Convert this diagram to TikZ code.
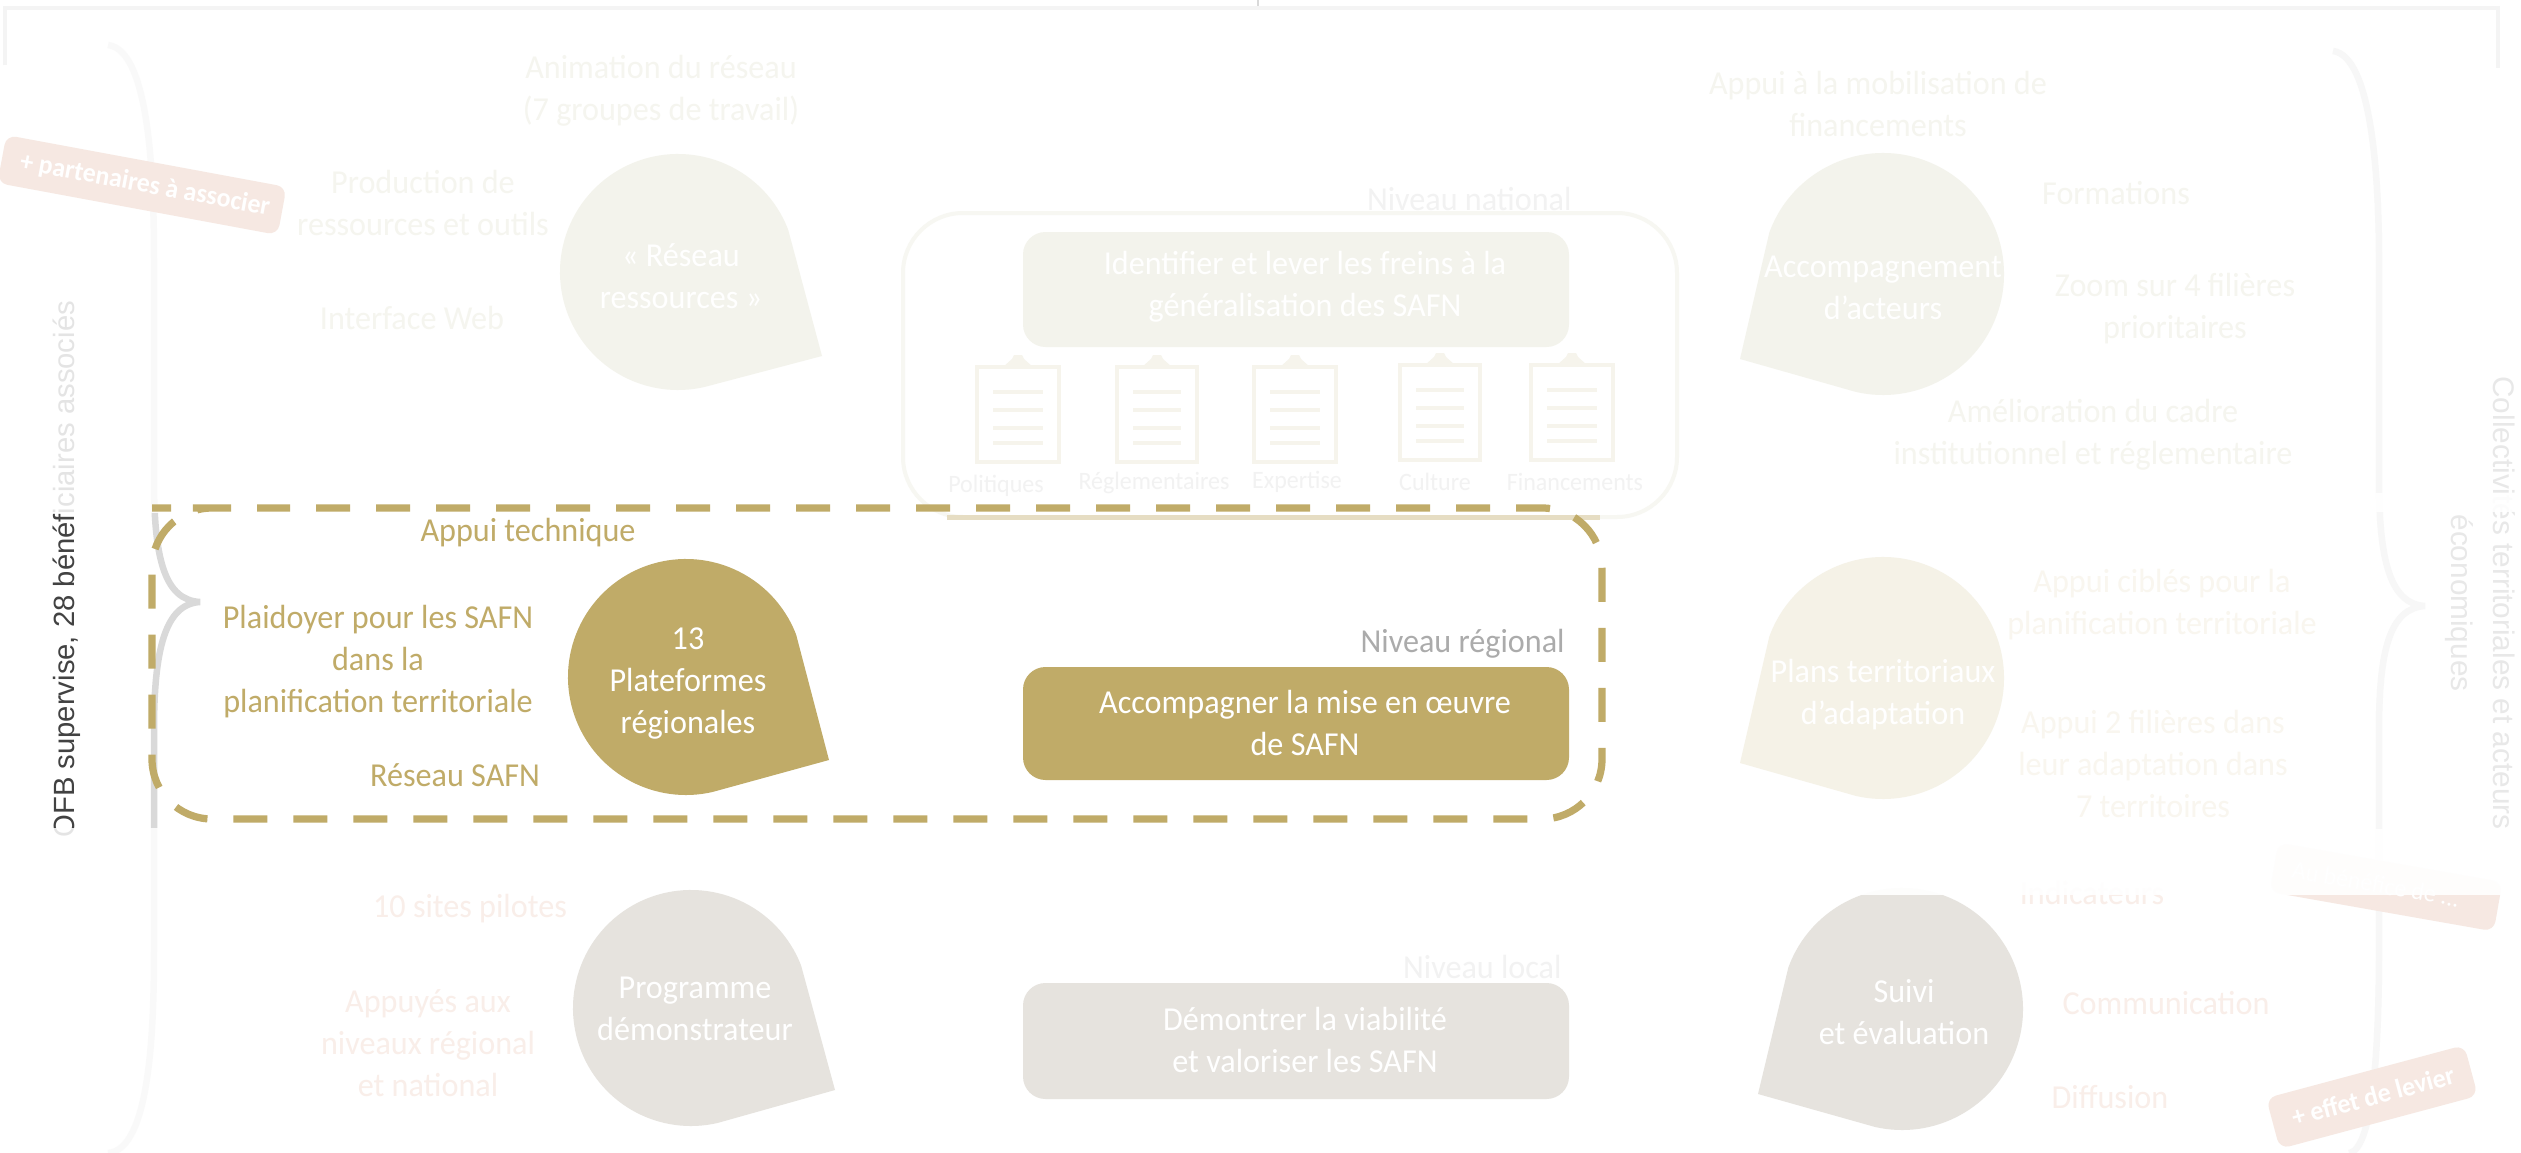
\documentclass[tikz,border=0pt]{standalone}
\usepackage{fontspec}
\setmainfont{Carlito}[FakeStretch=0.96]
\newfontfamily\arialf{Liberation Sans}
\definecolor{gold}{HTML}{C0AB68}
\definecolor{natfill}{HTML}{F3F3EC}
\definecolor{natlab}{HTML}{F5F5EF}
\definecolor{planfill}{HTML}{F5F2E7}
\definecolor{planlab}{HTML}{F9F6EF}
\definecolor{locfill}{HTML}{E6E3DE}
\definecolor{loclab}{HTML}{F9EEE9}
\definecolor{tagfill}{HTML}{F6E8E2}
\definecolor{framec}{HTML}{F4F4F4}
\definecolor{clipc}{HTML}{F6F4EC}
\tikzset{
  lab/.style={font=\fontsize{13.4}{16.8}\selectfont, align=center, inner sep=0pt},
  lev/.style={font=\fontsize{13.4}{16.8}\selectfont, inner sep=0pt, anchor=east},
  boxn/.style={rounded corners=9pt, draw=none, minimum width=218.4pt, inner sep=0pt},
  tagn/.style={rounded corners=4pt, inner sep=0pt},
  tagt/.style={text=white, inner sep=0pt, align=center, font=\fontsize{10.8}{13}\selectfont\bfseries},
  small/.style={font=\fontsize{10}{12}\selectfont, inner sep=0pt, text=#1},
  side/.style={font=\arialf\fontsize{#1}{16.8}\selectfont, align=center, inner sep=0pt},
}
% bubble: cx, cy, r(pt), start angle, end angle, tipx, tipy, colour
\newcommand{\bubbleshape}[8]{\fill[#8] ([shift={(#4:#3pt)}]#1,#2) arc[start angle=#4, end angle=#5, radius=#3pt] -- (#6,#7) -- cycle;}
% clipboard: left, top, right
\newcommand{\clipboardicon}[3]{%
  \draw[clipc, line width=1.6pt] (#1,#2) rectangle (#3,#2+95);
  \fill[clipc] ({(#1+#3)/2-15},#2) -- ({(#1+#3)/2-6},{#2-8}) -- ({(#1+#3)/2-4},{#2-12}) -- ({(#1+#3)/2+4},{#2-12}) -- ({(#1+#3)/2+6},{#2-8}) -- ({(#1+#3)/2+15},#2) -- cycle;
  \foreach \dy in {25,43,61,76}{\draw[clipc, line width=1.5pt] ({#1+16},{#2+\dy}) -- ({#3-16},{#2+\dy});}
}
\begin{document}
\begin{tikzpicture}[x=0.4pt,y=-0.4pt]
\useasboundingbox (0,0) rectangle (2521,1153);
\fill[white] (0,0) rectangle (2521,1153);
% left side bracket and text, faded outside the band
\draw[color=black!15, line width=2.6pt] (108,45) .. controls (150,50) and (154,180) .. (154,260) -- (154,480) .. controls (154,560) and (165,600) .. (200,602) .. controls (165,604) and (154,650) .. (154,730) -- (154,950) .. controls (154,1030) and (150,1150) .. (108,1153);
\node[side=11.7, rotate=90, text=black!74, anchor=west] (ofb) at (67,838) {OFB supervise, 28 bénéficiaires associés};
\fill[white, opacity=.86] (0,0) rectangle (300,513);
\fill[white, opacity=.86] (0,828) rectangle (300,1153);
% right side bracket and text
\draw[color=black!3, line width=2.6pt] (2333,51) .. controls (2372,56) and (2379,180) .. (2379,260) -- (2379,480) .. controls (2379,560) and (2390,604) .. (2425,606) .. controls (2390,608) and (2379,650) .. (2379,730) -- (2379,950) .. controls (2379,1030) and (2375,1150) .. (2349,1153);
\node[side=11.9, rotate=-90, text=black!9] (coll) at (2480,603) {Collectivités territoriales et acteurs\\économiques};
\fill[white, opacity=.88] (2340,493) rectangle (2521,512);
% frame
\draw[framec, line width=1.6pt] (5,65) -- (5,8) -- (2498,8) -- (2498,68);
\draw[black!15, line width=.8pt] (1258,0) -- (1258,6);
% national outline
\draw[color=natfill!70, line width=1.6pt, rounded corners=24pt] (903,213) rectangle (1677,517);
\draw[color=gold!40, line width=2pt] (947,517) -- (1600,517);
% bubbles
\bubbleshape{678}{272}{47.2}{21}{283}{822}{356}{natfill}
\bubbleshape{686}{677}{47.2}{21}{283}{829}{760}{gold}
\bubbleshape{691}{1008}{47.2}{21}{283}{835}{1090}{locfill}
\bubbleshape{1883}{274}{48.4}{160}{-103}{1740}{359}{natfill}
\bubbleshape{1883}{678}{48.4}{160}{-103}{1740}{763}{planfill}
\bubbleshape{1902}{1009}{48.4}{160}{-103}{1758}{1094}{locfill}
\node[lab, text=white] (reso) at (681,276) {« Réseau\\ressources »};
\node[lab, text=white] (plat) at (688,684) {13\\Plateformes\\régionales};
\node[lab, text=white] (prog) at (695,1009) {Programme\\démonstrateur};
\node[lab, text=white] (acc) at (1883,288) {Accompagnement\\d'acteurs};
\node[lab, text=white] (plans) at (1883,695) {Plans territoriaux\\d'adaptation};
\node[lab, text=white] (suivi) at (1904,1012) {Suivi\\et évaluation};
% central boxes
\node[boxn, fill=natfill, minimum height=46pt] (identifierbox) at (1296,289.5) {};
\node[boxn, fill=gold, minimum height=45.2pt] (misebox) at (1296,723.5) {};
\node[boxn, fill=locfill, minimum height=46.4pt] (demobox) at (1296,1041) {};
\node[lab, text=white] (identifier) at (1305,287) {Identifier et lever les freins à la\\généralisation des SAFN};
\node[lab, text=white] (mise) at (1305,722.5) {Accompagner la mise en œuvre\\de SAFN};
\node[lab, text=white] (demo) at (1305,1039.5) {Démontrer la viabilité\\et valoriser les SAFN};
\node[lev, text=black!5] (nnat) at (1572,199) {Niveau national};
\node[lev, text=black!33] (nreg) at (1565,644) {Niveau régional};
\node[lev, text=black!5] (nloc) at (1562,967) {Niveau local};
% clipboards
\clipboardicon{977}{367}{1059}
\clipboardicon{1117}{367}{1197}
\clipboardicon{1254}{367}{1336}
\clipboardicon{1400}{365}{1480}
\clipboardicon{1531}{365}{1613}
\node[small=black!5] (c1) at (996,486) {Politiques};
\node[small=black!5] (c2) at (1154,483) {Réglementaires};
\node[small=black!5] (c3) at (1297,482) {Expertise};
\node[small=black!5] (c4) at (1435,482) {Culture};
\node[small=black!5] (c5) at (1575,482) {Financements};
% labels national
\node[lab, text=natlab] (l1) at (661,91) {Animation du réseau\\(7 groupes de travail)};
\node[lab, text=natlab] (l2) at (423,203) {Production de\\ressources et outils};
\node[lab, text=natlab] (l3) at (412,318) {Interface Web};
\node[lab, text=natlab] (l4) at (1878,104) {Appui à la mobilisation de\\financements};
\node[lab, text=natlab] (l5) at (2116,193) {Formations};
\node[lab, text=natlab] (l6) at (2175,309) {Zoom sur 4 filières\\prioritaires};
\node[lab, text=natlab] (l7) at (2093,435) {Amélioration du cadre\\institutionnel et réglementaire};
% labels regional
\node[lab, text=gold] (r1) at (528,533) {Appui technique};
\node[lab, text=gold] (r2) at (378,662) {Plaidoyer pour les SAFN\\dans la\\planification territoriale};
\node[lab, text=gold] (r3) at (455,775) {Réseau SAFN};
\node[lab, text=planlab] (r4) at (2162,605) {Appui ciblés pour la\\planification territoriale};
\node[lab, text=planlab] (r5) at (2153,764) {Appui 2 filières dans\\leur adaptation dans\\7 territoires};
% labels local
\node[lab, text=loclab] (b1) at (470,909) {10 sites pilotes};
\node[lab, text=loclab] (b2) at (428,1043) {Appuyés aux\\niveaux régional\\et national};
\node[lab, text=loclab] (b3) at (2092,893) {Indicateurs};
\node[lab, text=loclab] (b4) at (2166,1003) {Communication};
\node[lab, text=loclab] (b5) at (2110,1097) {Diffusion};
% tags
\node[tagn, fill=tagfill, rotate=-10.5, minimum width=114pt, minimum height=19.5pt] (t1box) at (142,185) {};
\node[tagt, rotate=-10.5] (t1) at (145,185) {+ partenaires à associer};
\node[tagn, fill=tagfill, rotate=-10, minimum width=91pt, minimum height=20pt] (t2box) at (2386,887) {};
\node[tagt, rotate=-10, font=\fontsize{10}{12}\selectfont] (t2) at (2376,884) {Au bénéfice de ...};
\node[tagn, fill=tagfill, rotate=15, minimum width=82pt, minimum height=21pt] (t3box) at (2372,1097) {};
\node[tagt, rotate=15] (t3) at (2373,1096) {+ effet de levier};
% overlay hiding the upper part of the lower right block
\fill[white, opacity=.93] (1740,829) rectangle (2521,895);
% dashed frame
\draw[gold, line width=2.9pt, dash pattern=on 13.6pt off 10.4pt, dash phase=6.4pt, rounded corners=24pt] (212,508) -- (1602,508) -- (1602,819) -- (152,819) -- (152,508) -- cycle;
\end{tikzpicture}
\end{document}
